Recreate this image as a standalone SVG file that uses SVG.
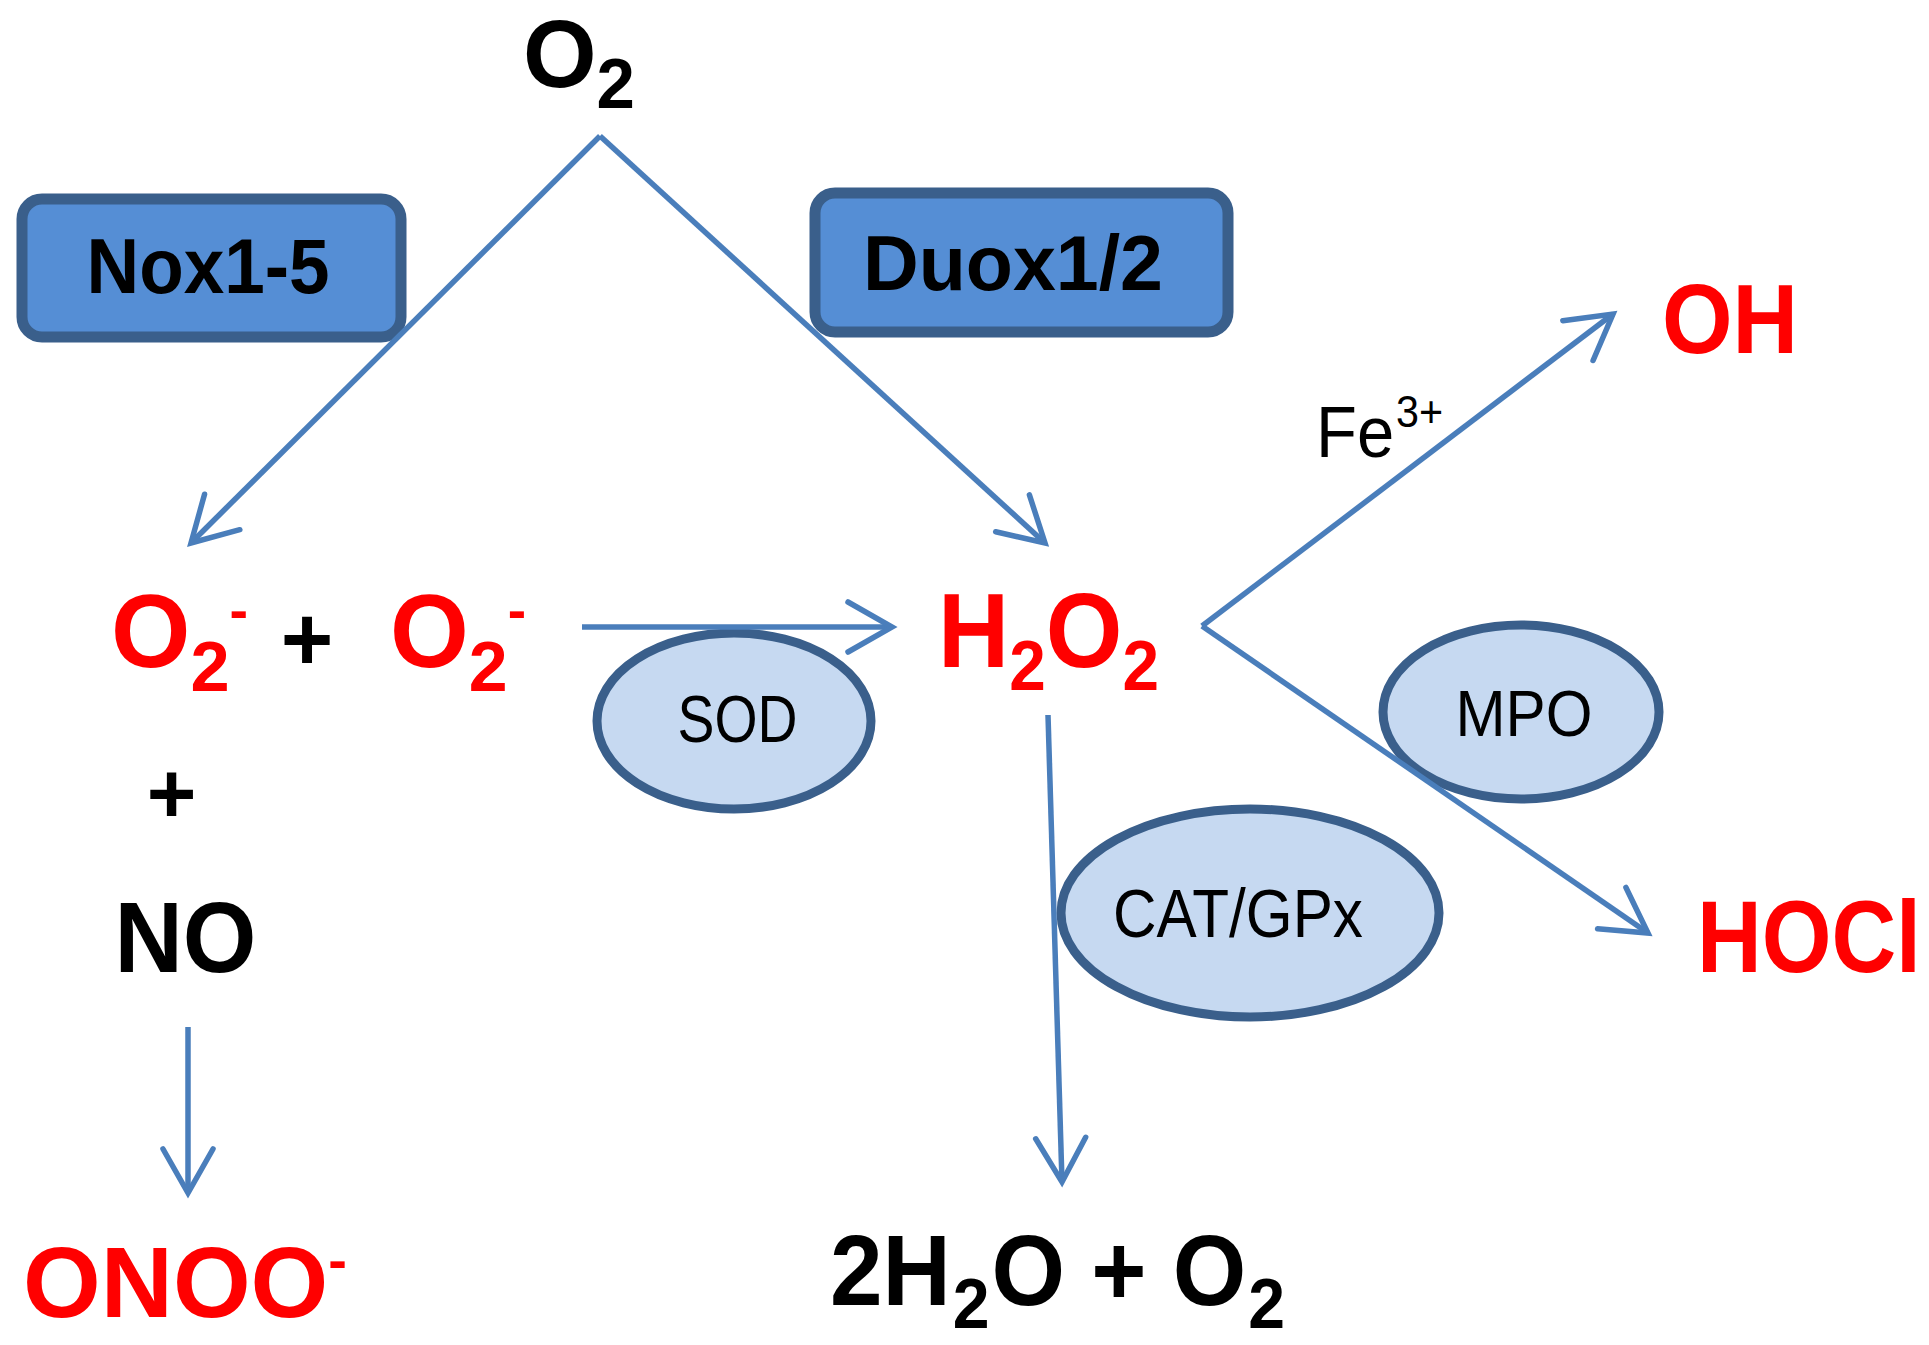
<svg xmlns="http://www.w3.org/2000/svg" width="1929" height="1345" viewBox="0 0 1929 1345">
<style>
text{font-family:"Liberation Sans",Arial,sans-serif;text-anchor:middle;}
.s{text-anchor:start;}
.e{text-anchor:end;}
.b{font-weight:bold;}
.red{fill:#ff0000;}
.blk{fill:#000000;}
.box{fill:#558ed5;stroke:#3a5f8b;stroke-width:11;}
.ell{fill:#c6d9f1;stroke:#3a5f8b;stroke-width:9;}
.con{fill:none;stroke:#4a7ebb;stroke-width:5.5;}
</style>
<defs>
<marker id="ah" markerUnits="userSpaceOnUse" markerWidth="120" markerHeight="120" refX="0" refY="0" orient="auto" overflow="visible">
<path d="M -44 -25 L 0 0 L -44 25" fill="none" stroke="#4a7ebb" stroke-width="5.5" stroke-linecap="round" stroke-linejoin="miter"/>
</marker>
</defs>

<g id="node-o2-top">
<text class="b blk s" x="523" y="87" font-size="96" textLength="112" lengthAdjust="spacingAndGlyphs">O<tspan dy="21" font-size="70">2</tspan></text>
</g>

<g id="node-nox">
<rect class="box" x="22" y="199" width="379" height="138" rx="20" ry="20"/>
<text class="b blk" x="208" y="293" font-size="77" textLength="243" lengthAdjust="spacingAndGlyphs">Nox1-5</text>
</g>

<g id="node-duox">
<rect class="box" x="815" y="193" width="413" height="139" rx="20" ry="20"/>
<text class="b blk" x="1013" y="290" font-size="77" textLength="300" lengthAdjust="spacingAndGlyphs">Duox1/2</text>
</g>

<g id="node-oh">
<text class="b red" x="1730" y="353" font-size="99" textLength="136" lengthAdjust="spacingAndGlyphs">OH</text>
</g>

<g id="label-fe">
<text class="blk s" x="1316" y="457" font-size="73" textLength="127" lengthAdjust="spacingAndGlyphs">Fe<tspan dx="2" dy="-30" font-size="45">3+</tspan></text>
</g>

<g id="node-o2minus-1">
<text class="b red s" x="111" y="667" font-size="103" textLength="137" lengthAdjust="spacingAndGlyphs">O<tspan dy="24" font-size="71">2</tspan><tspan dy="-62" font-size="56">-</tspan></text>
</g>

<g id="plus-1">
<text class="b blk" x="307" y="670" font-size="90">+</text>
</g>

<g id="node-o2minus-2">
<text class="b red s" x="390" y="667" font-size="103" textLength="136" lengthAdjust="spacingAndGlyphs">O<tspan dy="24" font-size="71">2</tspan><tspan dy="-62" font-size="56">-</tspan></text>
</g>

<g id="node-sod">
<ellipse class="ell" cx="734" cy="721" rx="137" ry="88"/>
<text class="blk" x="737.5" y="742" font-size="66" textLength="120" lengthAdjust="spacingAndGlyphs">SOD</text>
</g>

<g id="plus-2">
<text class="b blk" x="171.5" y="823" font-size="85">+</text>
</g>

<g id="node-no">
<text class="b blk" x="185.5" y="972" font-size="100" textLength="142" lengthAdjust="spacingAndGlyphs">NO</text>
</g>

<g id="node-onoo">
<text class="b red s" x="23" y="1317" font-size="100" textLength="324" lengthAdjust="spacingAndGlyphs">ONOO<tspan dy="-38" font-size="56">-</tspan></text>
</g>

<g id="node-h2o2">
<text class="b red s" x="938" y="667" font-size="105" textLength="221" lengthAdjust="spacingAndGlyphs">H<tspan dy="23" font-size="70">2</tspan><tspan dy="-23">O</tspan><tspan dy="23" font-size="70">2</tspan></text>
</g>

<g id="node-mpo">
<ellipse class="ell" cx="1521" cy="712" rx="138" ry="87"/>
<text class="blk" x="1524" y="736" font-size="64" textLength="137" lengthAdjust="spacingAndGlyphs">MPO</text>
</g>

<g id="node-catgpx">
<ellipse class="ell" cx="1250" cy="913" rx="189" ry="104"/>
<text class="blk" x="1238" y="937" font-size="68" textLength="250" lengthAdjust="spacingAndGlyphs">CAT/GPx</text>
</g>

<g id="node-hocl">
<text class="b red e" x="1921" y="972" font-size="102" textLength="224" lengthAdjust="spacingAndGlyphs">HOCl</text>
</g>

<g id="node-water">
<text class="b blk s" x="830" y="1305" font-size="100" textLength="455" lengthAdjust="spacingAndGlyphs">2H<tspan dx="2" dy="23" font-size="70">2</tspan><tspan dx="2" dy="-23">O + O</tspan><tspan dx="2" dy="23" font-size="70">2</tspan></text>
</g>

<g id="connectors">
<path class="con" d="M 600 136 L 191 543" marker-end="url(#ah)"/>
<path class="con" d="M 600 136 L 1045 543" marker-end="url(#ah)"/>
<path class="con" d="M 582 627 L 892 627" marker-end="url(#ah)"/>
<path class="con" d="M 1202 626 L 1613 314" marker-end="url(#ah)"/>
<path class="con" d="M 1202 626 L 1648 933" marker-end="url(#ah)"/>
<path class="con" d="M 1048 715 L 1062 1182" marker-end="url(#ah)"/>
<path class="con" d="M 188 1027 L 188 1193" marker-end="url(#ah)"/>
</g>
</svg>
